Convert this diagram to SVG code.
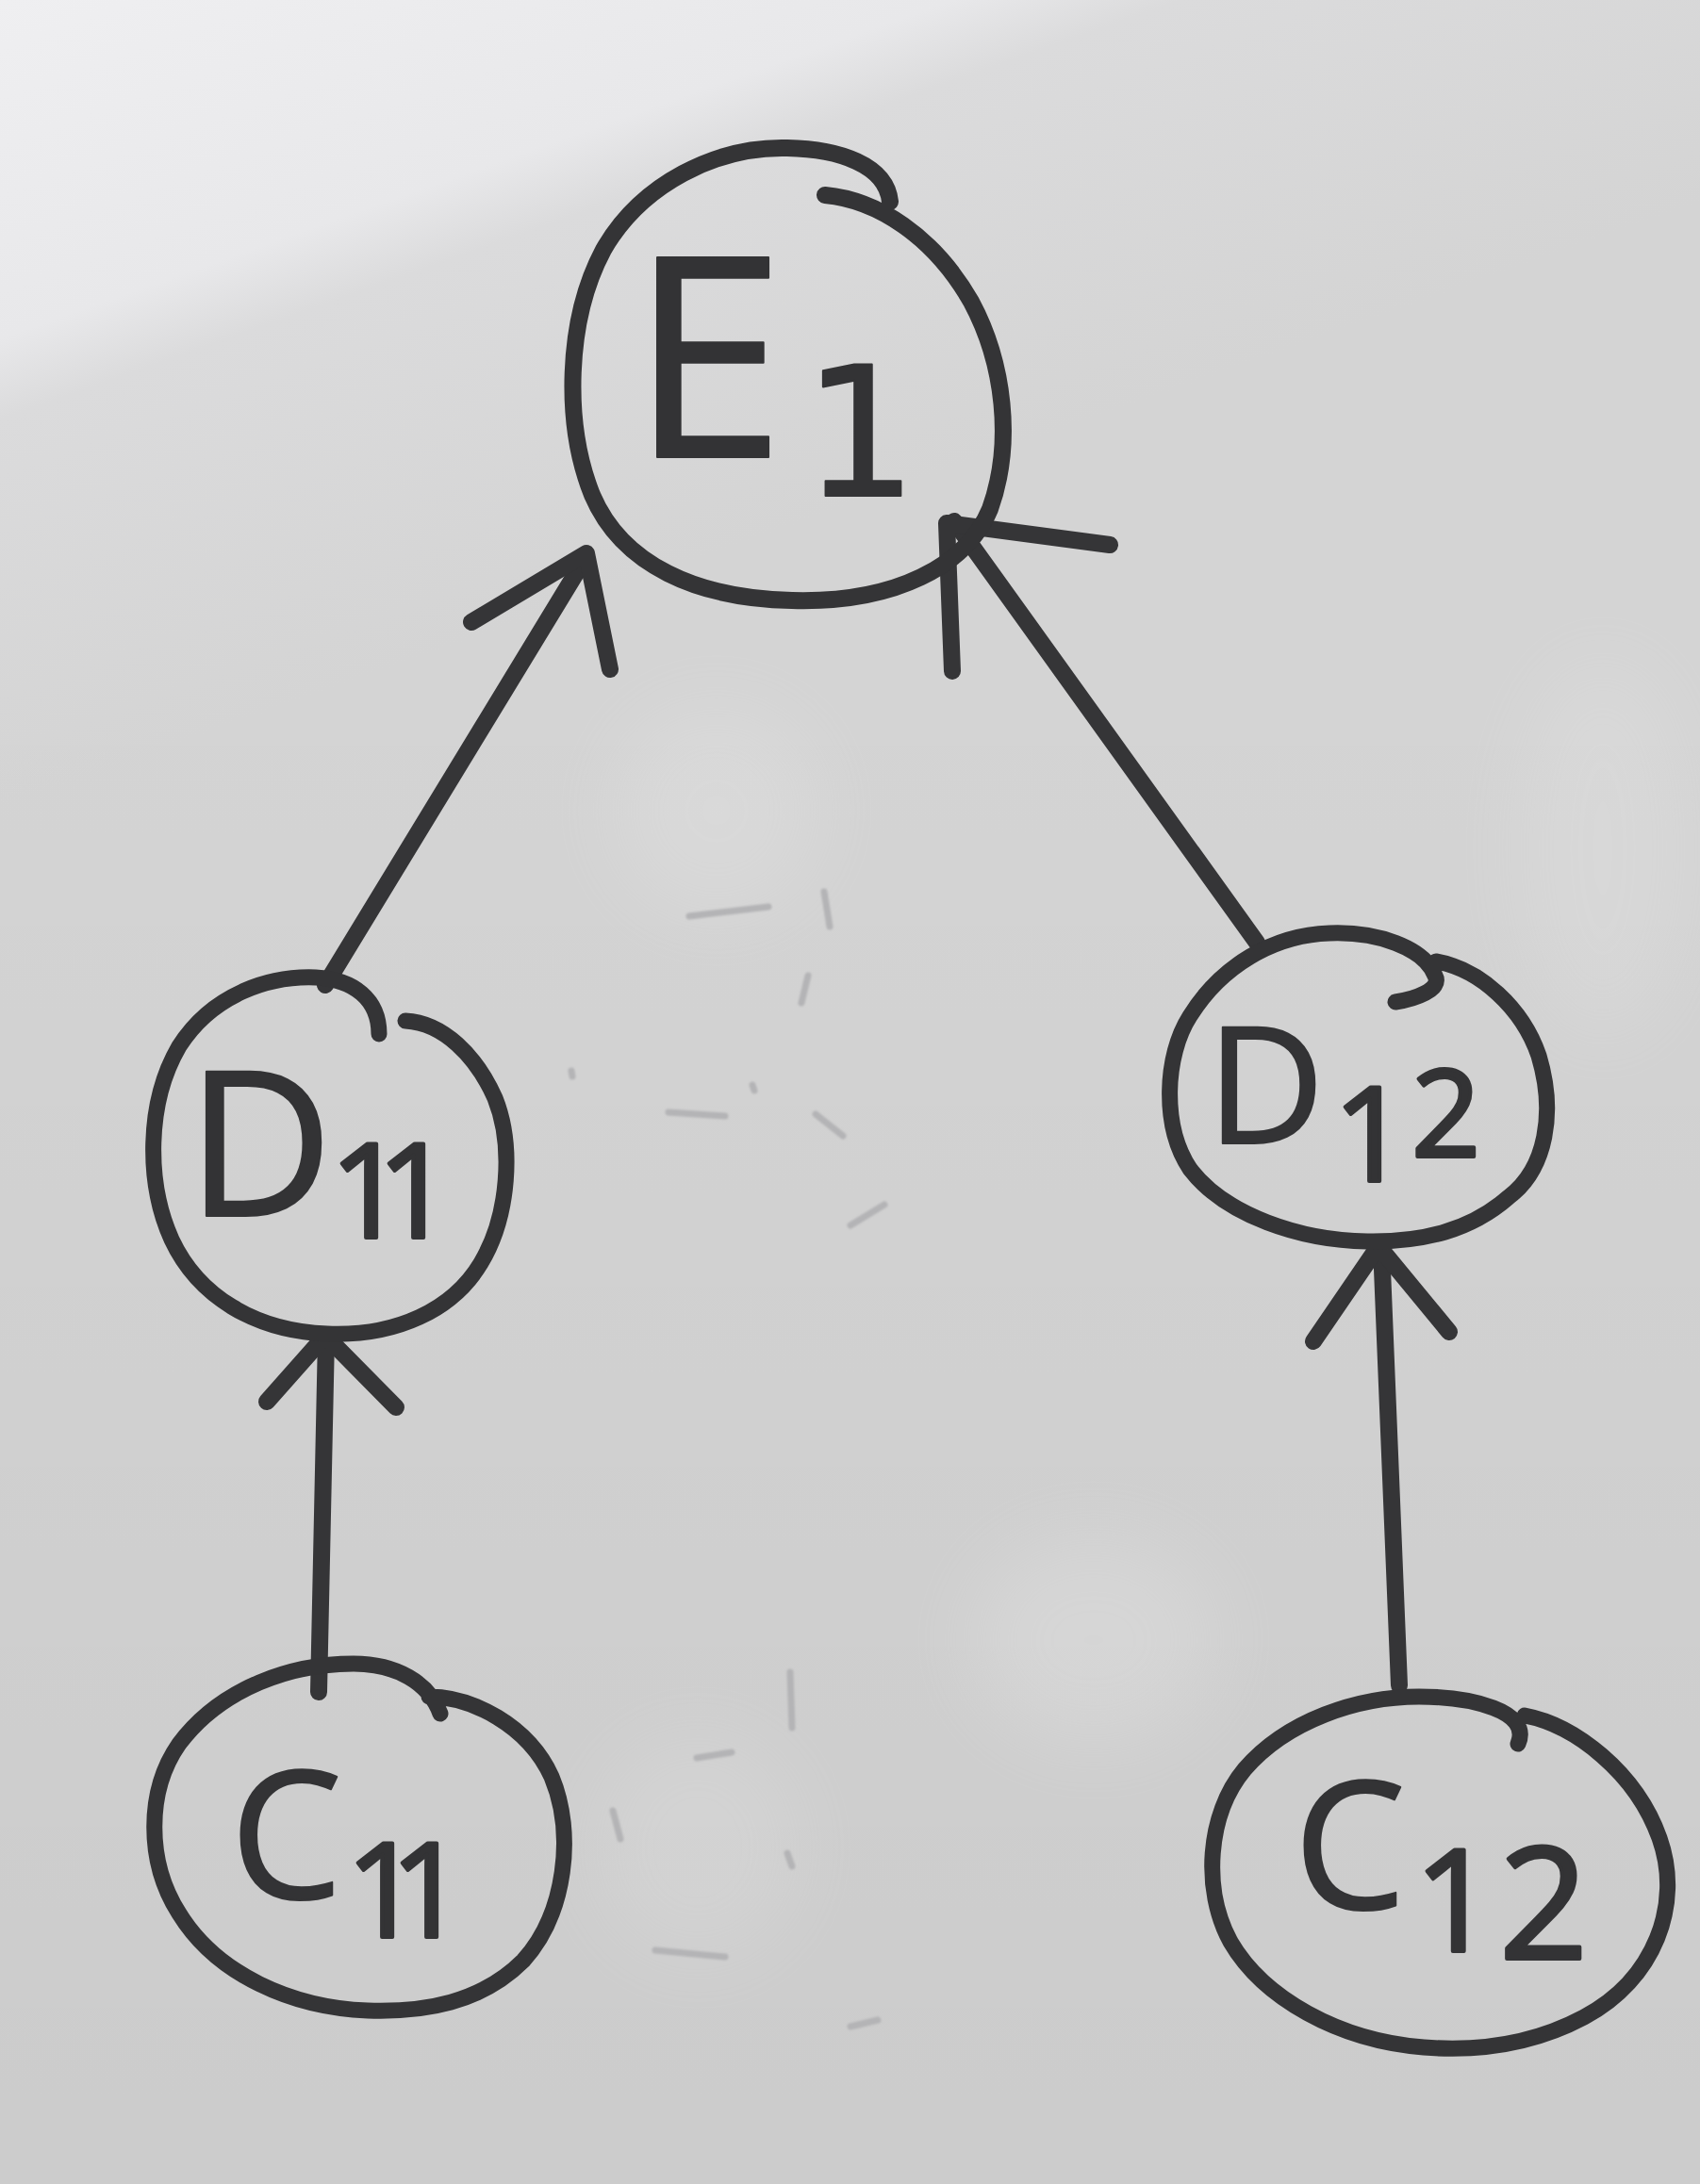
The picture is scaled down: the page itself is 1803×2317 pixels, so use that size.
<svg xmlns="http://www.w3.org/2000/svg" width="1803" height="2317" viewBox="0 0 1803 2317">
<defs>
<linearGradient id="paper" gradientUnits="userSpaceOnUse" x1="0" y1="0" x2="270" y2="760">
<stop offset="0" stop-color="#efeff1"/>
<stop offset="0.42" stop-color="#e8e8ea"/>
<stop offset="0.52" stop-color="#dbdbdc"/>
<stop offset="1" stop-color="#d4d4d4"/>
</linearGradient>
<linearGradient id="shade" x1="0" y1="0" x2="0" y2="1">
<stop offset="0.3" stop-color="#000" stop-opacity="0"/>
<stop offset="1" stop-color="#000" stop-opacity="0.04"/>
</linearGradient>
<filter id="blur" x="-50%" y="-50%" width="200%" height="200%"><feGaussianBlur stdDeviation="40"/></filter>
<filter id="soft" x="-10%" y="-10%" width="120%" height="120%"><feGaussianBlur stdDeviation="1.2"/></filter>
</defs>
<style>
.ink{fill:none;stroke:#343436;stroke-width:17;stroke-linecap:round;stroke-linejoin:round}
.arrow{fill:none;stroke:#353537;stroke-width:18;stroke-linecap:round;stroke-linejoin:round}
.ghost{fill:none;stroke:#b4b4b6;stroke-width:7;stroke-linecap:round}
.lbl{font-family:"Open Sans","Liberation Sans",sans-serif;fill:#333335;stroke:#333335;stroke-width:2;stroke-linejoin:round}
.sub{font-family:"Open Sans","Liberation Sans",sans-serif;stroke-width:4}
.e1{font-family:"DejaVu Sans","Open Sans",sans-serif;stroke-width:2}
</style>
<g id="background">
<rect x="0" y="0" width="1803" height="2317" fill="url(#paper)"/>
<rect x="0" y="0" width="1803" height="2317" fill="url(#shade)"/>
<ellipse cx="760" cy="860" rx="110" ry="110" fill="#ffffff" opacity="0.12" filter="url(#blur)"/>
<ellipse cx="1160" cy="1740" rx="130" ry="110" fill="#ffffff" opacity="0.14" filter="url(#blur)"/>
<ellipse cx="740" cy="1960" rx="110" ry="120" fill="#ffffff" opacity="0.10" filter="url(#blur)"/>
<ellipse cx="1700" cy="900" rx="90" ry="200" fill="#ffffff" opacity="0.10" filter="url(#blur)"/>
</g>
<g id="erased-marks" filter="url(#soft)">
<path class="ghost" d="M731 972 L815 962"/>
<path class="ghost" d="M874 946 L880 983"/>
<path class="ghost" d="M857 1035 L850 1064"/>
<path class="ghost" d="M606 1136 L607 1142"/>
<path class="ghost" d="M709 1180 L769 1184"/>
<path class="ghost" d="M798 1151 L800 1157"/>
<path class="ghost" d="M865 1182 L894 1205"/>
<path class="ghost" d="M902 1300 L938 1278"/>
<path class="ghost" d="M838 1774 L840 1833"/>
<path class="ghost" d="M739 1865 L776 1859"/>
<path class="ghost" d="M650 1921 L658 1951"/>
<path class="ghost" d="M835 1966 L840 1980"/>
<path class="ghost" d="M695 2069 L769 2076"/>
<path class="ghost" d="M902 2150 L931 2143"/>
</g>
<g id="connectors">
<g id="edge-D11-E1">
<path class="arrow" d="M345 1045 L622 590"/>
<path class="arrow" d="M500 660 L622 587 L647 710"/>
</g>
<g id="edge-D12-E1">
<path class="arrow" d="M1333 1000 L1012 553"/>
<path class="arrow" d="M1010 712 L1004 555 L1177 578"/>
</g>
<g id="edge-C11-D11">
<path class="arrow" d="M338 1795 L346 1418"/>
<path class="arrow" d="M283 1487 L345 1417 L420 1493"/>
</g>
<g id="edge-C12-D12">
<path class="arrow" d="M1484 1788 L1465 1322"/>
<path class="arrow" d="M1393 1423 L1462 1322 L1537 1413"/>
</g>
</g>
<g id="node-E1">
<path class="ink" style="stroke-width:18" d="M875 207 C930 212 990 250 1030 320 C1065 385 1075 470 1050 540 C1025 600 950 640 840 637 C740 635 660 600 628 525 C598 450 600 340 640 265 C680 195 760 155 835 157 C890 158 940 175 944 214"/>
<text class="lbl" x="668" y="485" font-size="297">E<tspan class="e1" x="852" y="526" font-size="190">1</tspan></text>
</g>
<g id="node-D11">
<path class="ink" d="M430 1083 C470 1085 505 1120 525 1165 C545 1215 540 1290 510 1340 C480 1390 420 1418 347 1415 C270 1412 210 1375 182 1315 C155 1255 155 1170 190 1110 C225 1055 285 1035 335 1037 C375 1039 402 1060 402 1097"/>
<text class="lbl" x="198" y="1290" font-size="214">D<tspan class="sub" x="350 400" y="1313" font-size="140">11</tspan></text>
</g>
<g id="node-D12">
<path class="ink" d="M1523 1020 C1570 1028 1615 1070 1632 1120 C1650 1180 1640 1240 1600 1270 C1560 1305 1510 1318 1450 1317 C1380 1316 1300 1290 1262 1240 C1232 1195 1235 1120 1262 1078 C1295 1025 1350 992 1410 990 C1460 988 1510 1005 1522 1035 C1530 1050 1500 1060 1480 1063"/>
<text class="lbl" x="1280" y="1213" font-size="172">D<tspan class="sub" x="1414" y="1253" font-size="140">1</tspan><tspan class="sub" x="1497" y="1227" font-size="128">2</tspan></text>
</g>
<g id="node-C11">
<path class="ink" d="M455 1800 C500 1800 560 1830 585 1885 C610 1945 600 2030 555 2080 C510 2125 450 2135 390 2133 C310 2130 230 2095 190 2030 C155 1975 155 1900 190 1850 C235 1790 310 1765 375 1765 C420 1765 455 1785 467 1818"/>
<text class="lbl" x="244" y="2014" font-size="189">C<tspan class="sub" x="367 414" y="2055" font-size="140">11</tspan></text>
</g>
<g id="node-C12">
<path class="ink" d="M1617 1820 C1670 1830 1735 1880 1760 1950 C1785 2020 1755 2100 1680 2140 C1620 2172 1560 2176 1510 2172 C1420 2165 1340 2120 1305 2060 C1275 2005 1280 1925 1320 1877 C1365 1825 1440 1800 1505 1800 C1560 1800 1625 1815 1610 1850"/>
<text class="lbl" x="1372" y="2025" font-size="189">C<tspan class="sub" x="1500" y="2070" font-size="150">1</tspan><tspan class="sub" x="1590" y="2078" font-size="165">2</tspan></text>
</g>
</svg>
